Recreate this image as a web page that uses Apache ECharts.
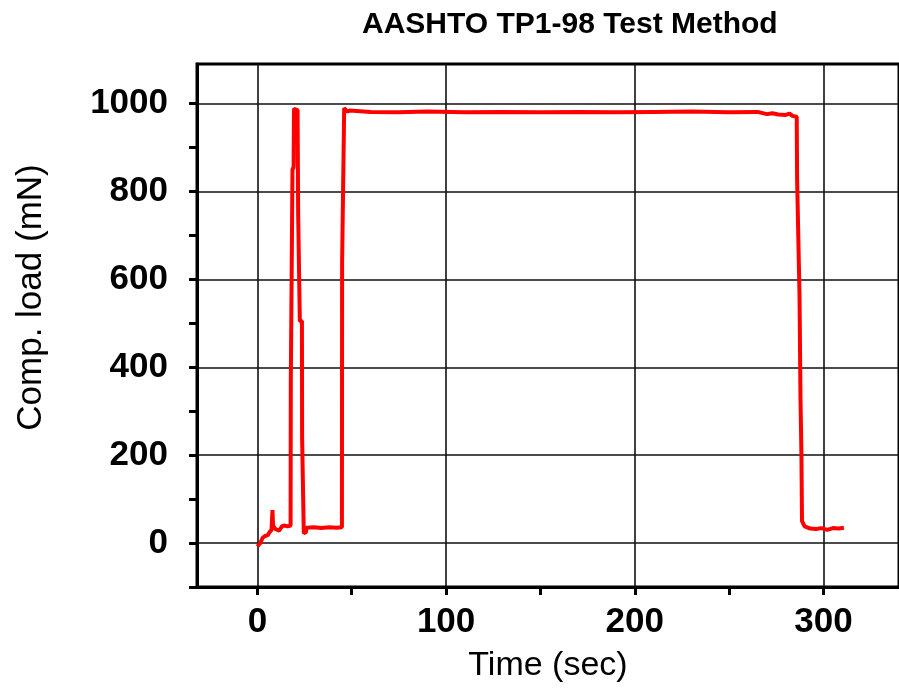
<!DOCTYPE html>
<html>
<head>
<meta charset="utf-8">
<script src="https://cdn.jsdelivr.net/npm/echarts@6/dist/echarts.min.js"></script>
<style>html,body{margin:0;padding:0;background:#fff}#c{width:899px;height:691px}</style>
</head>
<body>
<div id="c"></div>
<script>
// ---- data ----
const titleText = 'AASHTO TP1-98 Test Method';
const xName = 'Time (sec)';
const yName = 'Comp. load (mN)';
const xTickValues = [0, 50, 100, 150, 200, 250, 300];
const xLabelValues = [0, 100, 200, 300];
const yTickValues = [-100, 0, 100, 200, 300, 400, 500, 600, 700, 800, 900, 1000];
const yLabelValues = [0, 200, 400, 600, 800, 1000];
const timeSec = [0, 1.5, 2.8, 4, 5.5, 6.3, 7.5, 8, 8.3, 9.5, 11.5, 13, 14.1, 16, 17.6, 17.7, 18.5, 18.6, 19.2, 19.4, 21.3, 21.6, 22.3, 22.5, 23.6, 23.7, 24.5, 24.6, 25.8, 26, 30, 34, 38, 42, 44.8, 44.9, 45.9, 46, 47, 47.5, 49, 50, 60, 75, 90, 110, 130, 150, 170, 190, 210, 230, 250, 265, 270, 273, 276, 280, 282, 283.5, 285.8, 286, 286.7, 287.3, 287.8, 288.3, 288.6, 290, 293, 296, 299, 302, 305, 308, 310.8];
const loadMN = [-8, 0, 12, 16, 18, 24, 30, 75, 40, 32, 28, 38, 40, 38, 40, 360, 362, 850, 855, 988, 985, 750, 752, 505, 505, 240, 240, 22, 25, 35, 36, 34, 36, 35, 36, 640, 642, 990, 992, 982, 984, 980, 981, 980, 982, 980, 981, 980, 981, 980, 981, 982, 980, 981, 976, 978, 975, 974, 977, 972, 970, 830, 828, 560, 330, 200, 50, 38, 33, 32, 34, 30, 34, 33, 35];

const points = timeSec.map((t, i) => [t, loadMN[i]]);

const chart = echarts.init(document.getElementById('c'), null, {renderer: 'canvas'});
const font = 'Liberation Sans, Arial, sans-serif';
chart.setOption({
  animation: false,
  backgroundColor: '#fff',
  title: {
    text: titleText, left: 357, top: 5,
    textStyle: {fontFamily: font, fontWeight: 'bold', fontSize: 30, color: '#000'}
  },
  grid: {left: 197, top: 64, right: -8, bottom: 104, show: true, borderColor: '#000', borderWidth: 3, containLabel: false},
  xAxis: {
    type: 'value', min: -32, max: 340,
    name: xName, nameLocation: 'middle', nameGap: 62,
    nameTextStyle: {fontFamily: font, fontSize: 34, color: '#000'},
    axisLine: {show: true, onZero: false, lineStyle: {color: '#000', width: 3}},
    axisTick: {show: true, inside: false, length: 8, customValues: xTickValues, lineStyle: {color: '#000', width: 3}},
    axisLabel: {customValues: xLabelValues, margin: 18, fontFamily: font, fontWeight: 'bold', fontSize: 35, color: '#000', formatter: v => String(v)},
    splitLine: {show: true, lineStyle: {color: ['#111', 'rgba(0,0,0,0)'], width: 1.6}}
  },
  yAxis: {
    type: 'value', min: -100, max: 1090,
    name: yName, nameLocation: 'middle', nameGap: 148, nameRotate: 90,
    nameTextStyle: {fontFamily: font, fontSize: 35, color: '#000', padding: [0, 0, 0, 56]},
    axisLine: {show: true, onZero: false, lineStyle: {color: '#000', width: 3}},
    axisTick: {show: true, inside: false, length: 8, customValues: yTickValues, lineStyle: {color: '#000', width: 3}},
    axisLabel: {customValues: yLabelValues, margin: 29, fontFamily: font, fontWeight: 'bold', fontSize: 35, color: '#000', formatter: v => String(v)},
    splitLine: {show: true, lineStyle: {color: ['rgba(0,0,0,0)', '#111'], width: 1.6}}
  },
  series: [{
    type: 'line', data: points, showSymbol: false, symbol: 'none', smooth: false,
    lineStyle: {color: '#ff0000', width: 4}, z: 5
  }]
});
</script>
</body>
</html>
